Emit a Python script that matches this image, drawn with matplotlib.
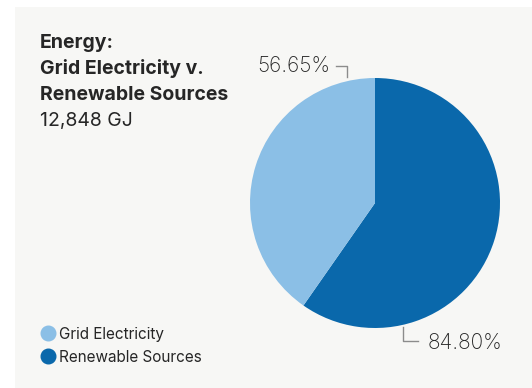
import matplotlib.pyplot as plt
from matplotlib.patches import Rectangle
from matplotlib.lines import Line2D

# data
categories = ['Grid Electricity', 'Renewable Sources']
shares = [40.3, 59.7]          # wedge sizes
labels = ['56.65%', '84.80%']  # labels as printed
colors = ['#8bbfe6', '#0a68ab']
title_lines = ['Energy:', 'Grid Electricity v.', 'Renewable Sources']
subtitle = '12,848 GJ'

W, H = 532, 388
plt.rcParams['font.family'] = ['Inter', 'DejaVu Sans']
text_color = '#262626'
line_color = '#8c8c8c'


def Y(y):
    # image rows (top down) -> axes units (bottom up)
    return H - y


fig = plt.figure(figsize=(W / 100, H / 100), dpi=100, facecolor='white')
ax = fig.add_axes([0, 0, 1, 1])

# panel background
ax.add_patch(Rectangle((15, 0), W - 15, Y(7), facecolor='#f7f7f5',
                       edgecolor='none', zorder=0))

# pie: renewable first, clockwise from 12 o'clock
ax.pie(shares[::-1], colors=colors[::-1], startangle=90, counterclock=False,
       center=(375, Y(203)), radius=125, frame=True,
       wedgeprops=dict(linewidth=0))

ax.set_xlim(0, W)
ax.set_ylim(0, H)
ax.set_aspect('auto')
ax.axis('off')

# title block
for i, line in enumerate(title_lines):
    ax.text(40, Y(48 + 26 * i), line, fontsize=14, fontweight='bold',
            color=text_color, va='baseline', ha='left')
ax.text(40, Y(126), subtitle, fontsize=14, color=text_color,
        va='baseline', ha='left')

# labels with leader lines
ax.text(330, Y(72), labels[0], fontsize=15, color=text_color,
        va='baseline', ha='right', fontweight='light')
ax.plot([336, 347, 347], [Y(66), Y(66), Y(77)], color=line_color, lw=1)

ax.text(428, Y(349), labels[1], fontsize=15, color=text_color,
        va='baseline', ha='left', fontweight='light')
ax.plot([403, 403, 418], [Y(327), Y(341), Y(341)], color=line_color, lw=1)

# legend
handles = [Line2D([], [], marker='o', ls='', color=c, markersize=10.5)
           for c in colors]
ax.legend(handles, categories, loc='upper left',
          bbox_to_anchor=(33 / W, Y(319) / H), frameon=False,
          fontsize=11, handletextpad=0.2, labelspacing=0.52,
          borderpad=0, handlelength=1.0, labelcolor=text_color)

fig.savefig('out.png', dpi=100)
